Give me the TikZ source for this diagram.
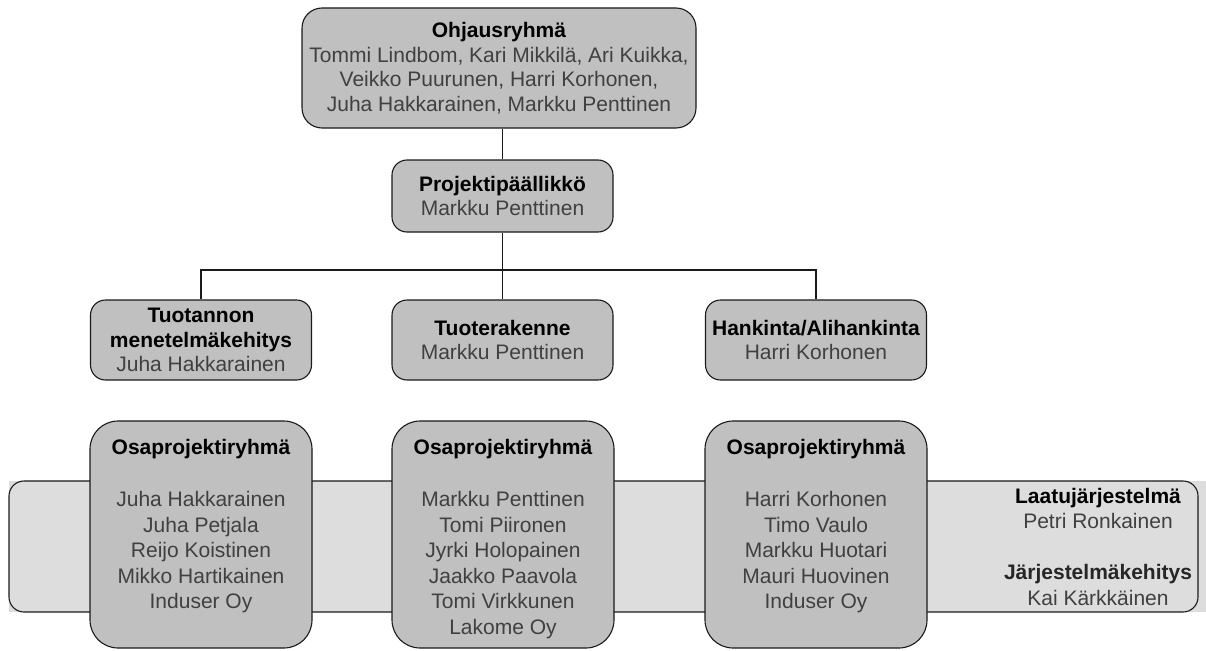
\documentclass[tikz,border=0pt]{standalone}
\usepackage{fontspec}
\setmainfont{Liberation Sans}
\definecolor{boxfill}{HTML}{C0C0C0}
\definecolor{bandfill}{HTML}{DDDDDD}
\definecolor{nametext}{HTML}{404040}
\definecolor{linecol}{HTML}{1A1A1A}
\newcommand{\orgtitle}[1]{\textbf{#1}}
\newcommand{\orgname}[1]{\textcolor{nametext}{#1}}
\begin{document}
\begin{tikzpicture}[x=1pt,y=-1pt,
  orgbox/.style={draw=linecol, line width=1.1pt, fill=boxfill, inner sep=0pt, align=center,
    font=\fontsize{21}{24.5}\selectfont},
  topbox/.style={orgbox, rounded corners=20pt},
  midbox/.style={orgbox, rounded corners=15pt, minimum width=221pt, minimum height=80pt},
  groupbox/.style={orgbox, rounded corners=28pt, minimum width=222pt, minimum height=227pt},
  grouptext/.style={inner sep=0pt, align=center, anchor=north, font=\fontsize{21}{25.5}\selectfont},
  conn/.style={draw=linecol, line width=1.1pt}]
\useasboundingbox (0,0) rectangle (1206,650);

% band behind the group boxes
\fill[bandfill] (9,481) rectangle (1206,612);
\node[draw=linecol, line width=1.1pt, rounded corners=15pt, inner sep=0pt,
  minimum width=1189pt, minimum height=131pt] (band) at (603.5,546.5) {};

% top levels
\node[topbox, minimum width=394pt, minimum height=120pt] (ohj) at (499,68)
  {\orgtitle{Ohjausryhmä}\\
   \orgname{Tommi Lindbom, Kari Mikkilä, Ari Kuikka,}\\
   \orgname{Veikko Puurunen, Harri Korhonen,}\\
   \orgname{Juha Hakkarainen, Markku Penttinen}};
\node[orgbox, rounded corners=15pt, minimum width=221pt, minimum height=72pt] (pp) at (502.5,196)
  {\orgtitle{Projektipäällikkö}\\ \orgname{Markku Penttinen}};

\node[midbox] (tuot) at (201,340)
  {\orgtitle{Tuotannon}\\ \orgtitle{menetelmäkehitys}\\ \orgname{Juha Hakkarainen}};
\node[midbox] (rak) at (502.5,340)
  {\orgtitle{Tuoterakenne}\\ \orgname{Markku Penttinen}};
\node[midbox] (hank) at (816,340)
  {\orgtitle{Hankinta/Alihankinta}\\ \orgname{Harri Korhonen}};

% connectors
\coordinate (jn) at (502.5,270);
\draw[conn] (pp.north) -- (pp.north |- ohj.south);
\draw[conn] (pp.south) -- (jn);
\draw[conn] (jn) -| (tuot.north);
\draw[conn] (jn) -| (hank.north);
\draw[conn] (jn) -- (rak.north);

% group boxes
\node[groupbox] (g1) at (201,534.5) {};
\node[groupbox] (g2) at (503,534.5) {};
\node[groupbox] (g3) at (816,534.5) {};

\node[grouptext] (g1t) at (201,439.5)
  {\orgtitle{Osaprojektiryhmä}\\[26.5pt]
   \orgname{Juha Hakkarainen}\\ \orgname{Juha Petjala}\\ \orgname{Reijo Koistinen}\\
   \orgname{Mikko Hartikainen}\\ \orgname{Induser Oy}};
\node[grouptext] (g2t) at (503,439.5)
  {\orgtitle{Osaprojektiryhmä}\\[26.5pt]
   \orgname{Markku Penttinen}\\ \orgname{Tomi Piironen}\\ \orgname{Jyrki Holopainen}\\
   \orgname{Jaakko Paavola}\\ \orgname{Tomi Virkkunen}\\ \orgname{Lakome Oy}};
\node[grouptext] (g3t) at (816,439.5)
  {\orgtitle{Osaprojektiryhmä}\\[26.5pt]
   \orgname{Harri Korhonen}\\ \orgname{Timo Vaulo}\\ \orgname{Markku Huotari}\\
   \orgname{Mauri Huovinen}\\ \orgname{Induser Oy}};

\node[grouptext] (bandt) at (1098,487.7)
  {\orgtitle{Laatujärjestelmä}\\ \orgname{Petri Ronkainen}\\[25.5pt]
   \textcolor{black!85}{\textbf{Järjestelmäkehitys}}\\ \orgname{Kai Kärkkäinen}};
\end{tikzpicture}
\end{document}
